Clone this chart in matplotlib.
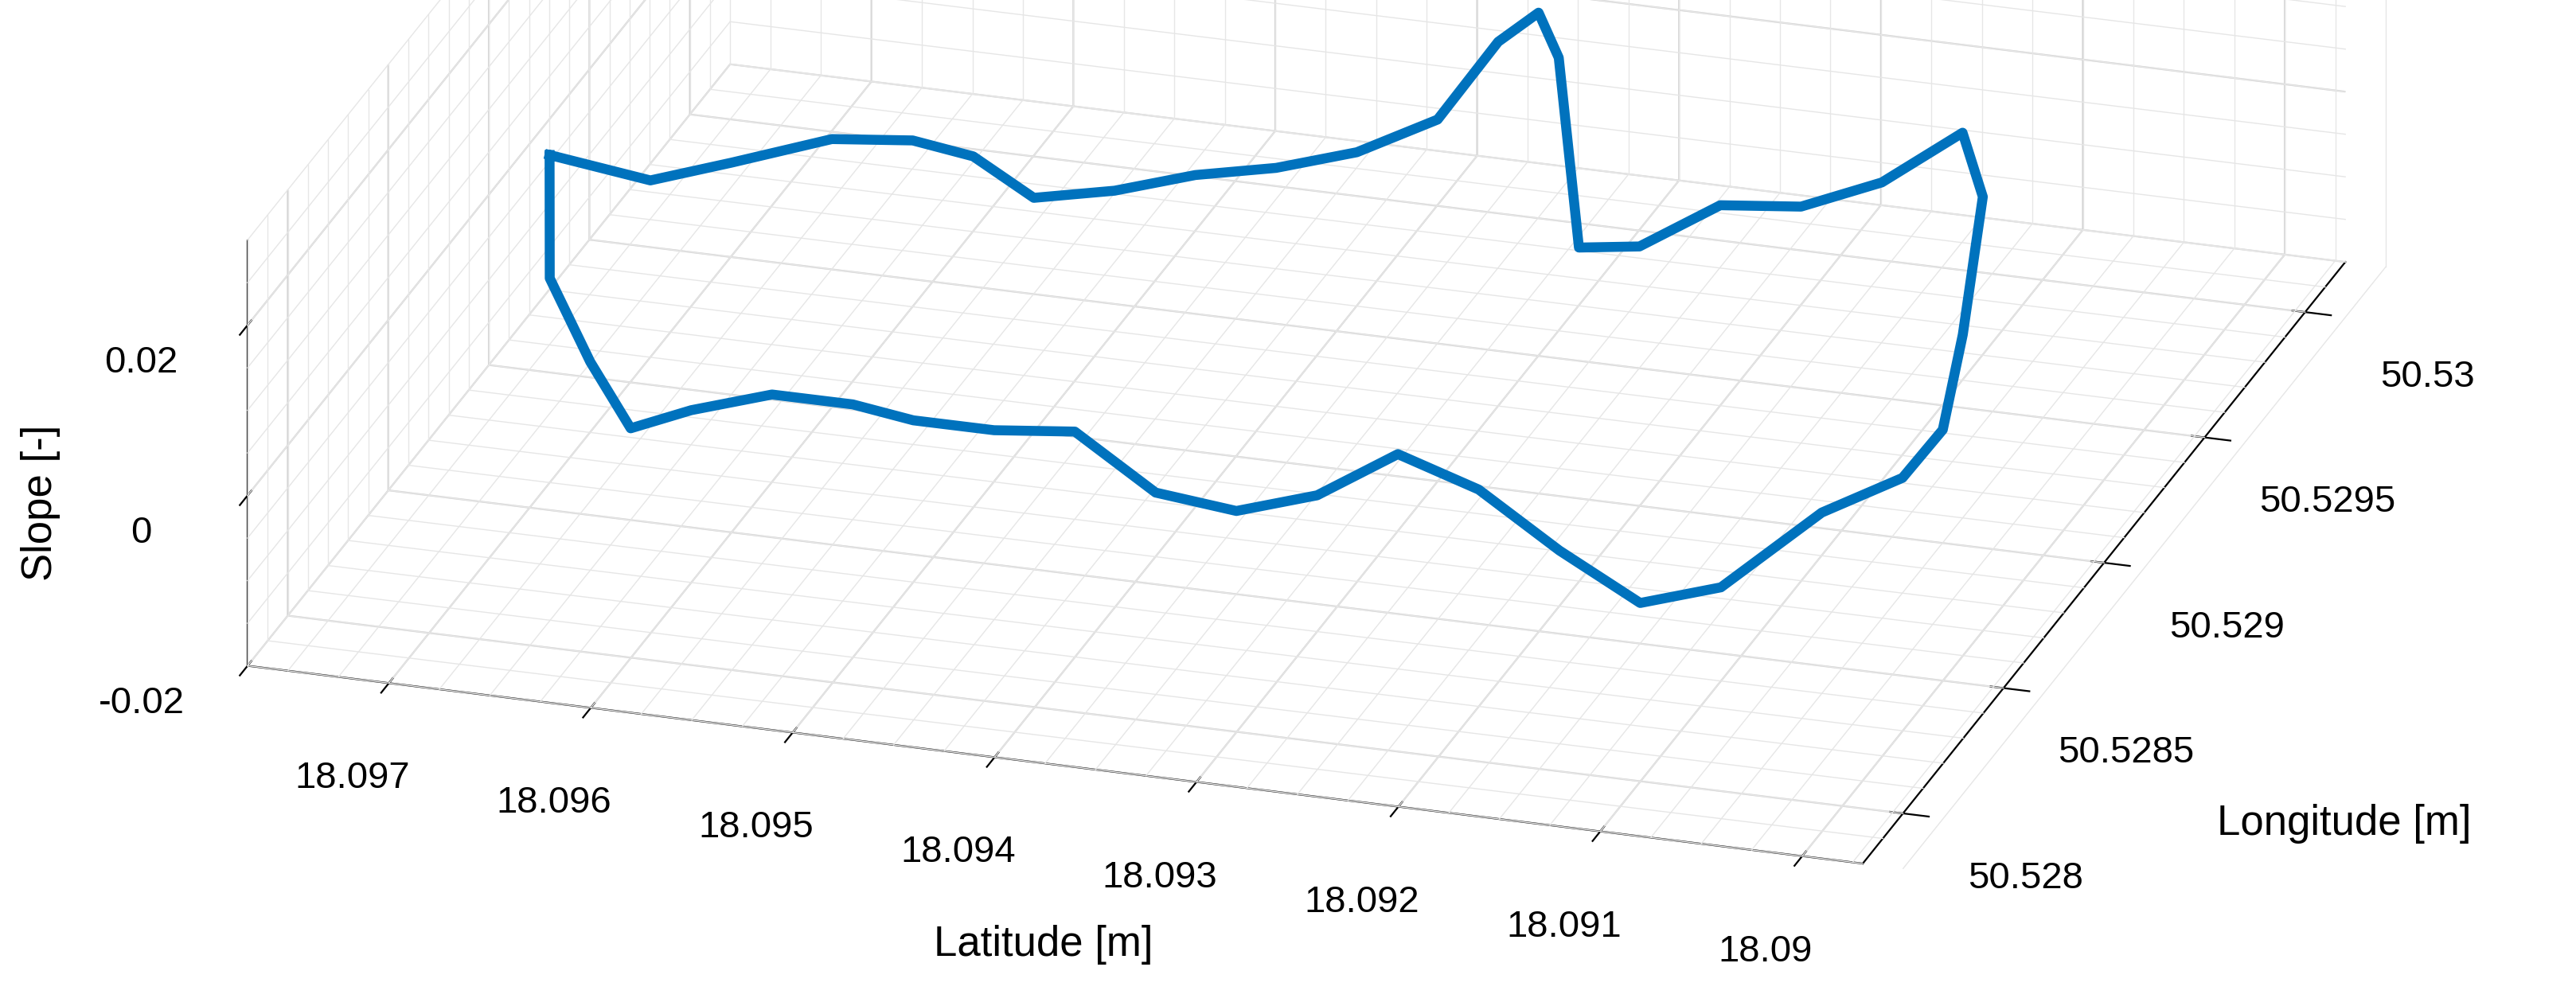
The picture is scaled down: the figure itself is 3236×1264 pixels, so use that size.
import numpy as np
import matplotlib.pyplot as plt

plt.rcParams['font.family'] = ['Arial', 'Liberation Sans', 'DejaVu Sans']

# track points (latitude, longitude, slope)
lat = [18.0972, 18.0970, 18.0967, 18.0964, 18.0961, 18.0957, 18.0953, 18.0950, 18.0946,
       18.0942, 18.0938, 18.0934, 18.0930, 18.0926, 18.0922, 18.0918, 18.0914, 18.0910,
       18.0906, 18.0903, 18.0902, 18.0903, 18.0904, 18.0906, 18.0910, 18.0914, 18.0918,
       18.0922, 18.0925, 18.0926, 18.0927, 18.0929, 18.0932, 18.0936, 18.0940, 18.0944,
       18.0948, 18.0952, 18.0955, 18.0958, 18.0962, 18.0966, 18.0969, 18.0972]
lon = [50.5288, 50.5286, 50.5285, 50.5284, 50.5284, 50.5284, 50.5284, 50.5284, 50.5284,
       50.5284, 50.5284, 50.5284, 50.5284, 50.5284, 50.5284, 50.5284, 50.5284, 50.5284,
       50.5285, 50.5286, 50.5287, 50.5289, 50.5291, 50.5292, 50.5292, 50.5292, 50.5292,
       50.5292, 50.5292, 50.5292, 50.5292, 50.5292, 50.5292, 50.5292, 50.5292, 50.5292,
       50.5292, 50.5292, 50.5292, 50.5292, 50.5292, 50.5291, 50.5290, 50.5288]
slope = [0.012, 0.004, -0.002, -0.006, -0.003, 0.000, 0.000, -0.001, -0.001, 0.000,
         -0.006, -0.007, -0.004, 0.002, -0.001, -0.007, -0.012, -0.009, -0.002, 0.000,
         0.003, 0.008, 0.018, 0.022, 0.015, 0.011, 0.010, 0.004, 0.003, 0.025, 0.030,
         0.026, 0.016, 0.011, 0.008, 0.006, 0.003, 0.001, 0.005, 0.006, 0.005, 0.004,
         0.004, 0.012]

xlim = (18.0977, 18.0897)
ylim = (50.5278, 50.5302)
zlim = (-0.02, 0.03)

fig = plt.figure(figsize=(16.18, 6.32), dpi=200)
ax = fig.add_axes([0.008, 0.237, 0.98, 1.0], projection='3d')
ax.set_proj_type('ortho')
ax.plot(lat, lon, slope, color='#0072BD', linewidth=4.5, clip_on=False)

# minor grid lines on the panes
gc = (0.9, 0.9, 0.9)
kw = dict(color=gc, lw=0.5, zorder=0, clip_on=False)
for x in np.arange(18.0895, 18.0976, 0.00025):
    ax.plot([x, x], [ylim[1], ylim[1]], zlim, **kw)
    ax.plot([x, x], ylim, [zlim[0], zlim[0]], **kw)
for y in np.arange(50.5278, 50.53021, 0.0001):
    ax.plot([xlim[0], xlim[0]], [y, y], zlim, **kw)
    ax.plot(xlim, [y, y], [zlim[0], zlim[0]], **kw)
for z in np.arange(-0.02, 0.0301, 0.005):
    ax.plot(xlim, [ylim[1], ylim[1]], [z, z], **kw)
    ax.plot([xlim[0], xlim[0]], ylim, [z, z], **kw)

ax.set_xlim(*xlim)
ax.set_ylim(*ylim)
ax.set_zlim(*zlim)
ax.set_xticks([18.097, 18.096, 18.095, 18.094, 18.093, 18.092, 18.091, 18.09])
ax.set_xticklabels(['18.097', '18.096', '18.095', '18.094', '18.093', '18.092', '18.091', '18.09'])
ax.set_yticks([50.528, 50.5285, 50.529, 50.5295, 50.53])
ax.set_yticklabels(['50.528', '50.5285', '50.529', '50.5295', '50.53'])
ax.set_zticks([-0.02, 0, 0.02])
ax.set_zticklabels(['-0.02', '0', '0.02'])
ax.tick_params(labelsize=17, pad=10)
ax.zaxis.set_tick_params(pad=4)
ax.zaxis.set_ticks_position('lower')
ax.set_box_aspect((3.0, 2.86, 0.82), zoom=2.3)
ax.view_init(elev=23, azim=-72.6)
for a in (ax.xaxis, ax.yaxis, ax.zaxis):
    a.set_pane_color((1, 1, 1, 1))
    a._axinfo['grid']['color'] = (0.82, 0.82, 0.82)
    a._axinfo['grid']['linewidth'] = 0.8
    a._axinfo['axisline']['color'] = (0.15, 0.15, 0.15)

fig.text(0.405, 0.05, 'Latitude [m]', fontsize=19, ha='center')
fig.text(0.91, 0.17, 'Longitude [m]', fontsize=19, ha='center')
fig.text(0.008, 0.5, 'Slope [-]', fontsize=19, rotation=90, va='center')
plt.savefig('out.png')
